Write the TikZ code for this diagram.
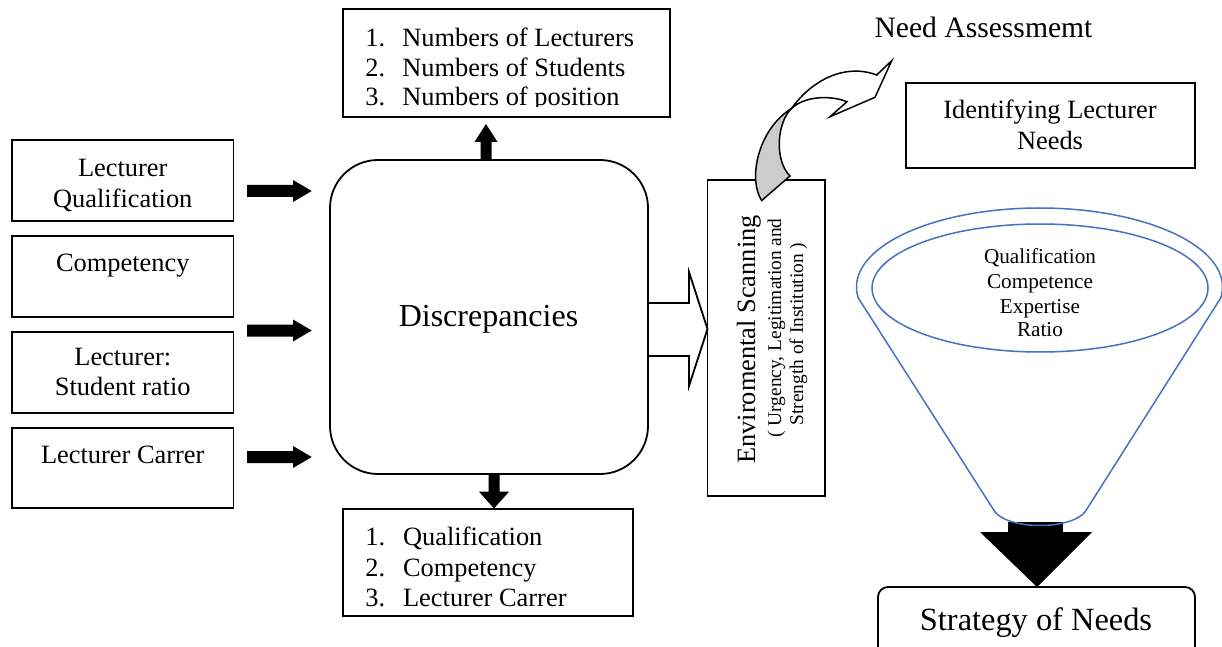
\documentclass[tikz,border=0pt]{standalone}
\usepackage{fontspec}
\setmainfont{Liberation Serif}
\definecolor{funblue}{RGB}{68,114,196}
\begin{document}
\begin{tikzpicture}[x=0.5pt,y=-0.5pt,
  box/.style={draw, line width=0.9pt, inner sep=0pt, outer sep=0pt},
  txt/.style={inner sep=0pt, anchor=base, font=\fontsize{13.2}{15}\selectfont},
  txtl/.style={txt, anchor=base west},
  small/.style={font=\fontsize{9.7}{11}\selectfont},
  ftxt/.style={txt, font=\fontsize{10.6}{12}\selectfont},
  funnel/.style={draw=funblue, line width=0.75pt}]
\useasboundingbox (0,0) rectangle (1222,647);

% left boxes
\node[box, minimum width=110.75pt, minimum height=40.35pt] (b1) at (122.75,180.35) {};
\node[box, minimum width=110.75pt, minimum height=40.35pt] (b2) at (122.75,276.35) {};
\node[box, minimum width=110.75pt, minimum height=40.5pt] (b3) at (122.75,372.2) {};
\node[box, minimum width=110.75pt, minimum height=40.3pt] (b4) at (122.75,468) {};
\node[txt] (b1a) at (122.75,176.7) {Lecturer};
\node[txt] (b1b) at (122.75,207.3) {Qualification};
\node[txt] (b2a) at (122.75,271.7) {Competency};
\node[txt] (b3a) at (122.75,365) {Lecturer:};
\node[txt] (b3b) at (122.75,395) {Student ratio};
\node[txt] (b4a) at (122.75,463.3) {Lecturer Carrer};

% black right arrows
\foreach \c in {191,330.5,457}{
  \fill (247,\c-6) -- (293,\c-6) -- (293,\c-11) -- (311.7,\c) -- (293,\c+11) -- (293,\c+6) -- (247,\c+6) -- cycle;
}

% discrepancies
\node[box, rounded corners=24pt, minimum width=159pt, minimum height=157pt] (disc) at (489,317) {};
\node[txt, font=\fontsize{16}{19}\selectfont] (disct) at (488.5,326.5) {Discrepancies};

% top box
\node[box, minimum width=163.35pt, minimum height=54pt] (top) at (506.65,63.3) {};
\begin{scope}
\clip (343,9) rectangle (670,107);
\node[txtl] (t1n) at (365,46.7) {1.};
\node[txtl] (t1) at (402,46.7) {Numbers of Lecturers};
\node[txtl] (t2n) at (365,76.5) {2.};
\node[txtl] (t2) at (402,76.5) {Numbers of Students};
\node[txtl] (t3n) at (365,105.5) {3.};
\node[txtl] (t3) at (402,105.5) {Numbers of position};
\end{scope}
% up arrow
\fill (480.5,160) -- (480.5,142) -- (474.5,142) -- (486,124) -- (497.5,142) -- (491.5,142) -- (491.5,160) -- cycle;

% bottom box
\node[box, minimum width=145pt, minimum height=53.35pt] (bot) at (488.3,562.65) {};
\node[txtl] (u1n) at (365,545) {1.};
\node[txtl] (u1) at (402.7,545) {Qualification};
\node[txtl] (u2n) at (365,576) {2.};
\node[txtl] (u2) at (402.7,576) {Competency};
\node[txtl] (u3n) at (365,606.5) {3.};
\node[txtl] (u3) at (402.7,606.5) {Lecturer Carrer};
% down arrow
\fill (488.5,474) -- (488.5,491.7) -- (479,491.7) -- (494,508.5) -- (509,491.7) -- (499.5,491.7) -- (499.5,474) -- cycle;

% hollow arrow
\draw[line width=0.9pt] (648,303) -- (689,303) -- (689,272) -- (707.5,329) -- (689,386) -- (689,356) -- (648,356);

% environmental box
\node[box, minimum width=58.75pt, minimum height=158pt] (env) at (766.25,338) {};
\node[txt, rotate=90] (env1) at (755,339.5) {Enviromental Scanning};
\node[txt, small, rotate=90] (env2) at (781,328) {( Urgency, Legitimation and};
\node[txt, small, rotate=90] (env3) at (803,334) {Strength of Institution )};

% curved arrow
\draw[fill=white, line width=0.75pt, line join=miter] (791.7,108.3) .. controls (812,80) and (845,63) .. (876.7,75) -- (891.7,60.7) -- (875,97.3) -- (830,116.7) -- (847,101.7) .. controls (830,95) and (805,96) .. (791.7,108.3) -- cycle;
\draw[fill=gray!40, line width=0.75pt] (761.7,200.5) .. controls (748,180) and (757,130) .. (791.7,108.3) .. controls (777,122) and (774,160) .. (790,176) -- cycle;

\node[txt, font=\fontsize{14.8}{17}\selectfont] (need) at (983.5,37.5) {Need Assessmemt};

% identifying box
\node[box, minimum width=144.5pt, minimum height=42.65pt] (ident) at (1050.5,125.35) {};
\node[txt] (id1) at (1050,119) {Identifying Lecturer};
\node[txt] (id2) at (1050,149) {Needs};

% funnel
\fill (1008,522) rectangle (1063,533);
\fill (980,532) -- (1092,532) -- (1037,587) -- cycle;
\begin{scope}
\clip (840,190) rectangle (1240,298);
\draw[funnel] (1039.5,287) ellipse [x radius=91.5pt, y radius=39.5pt];
\end{scope}
\draw[funnel] (858.3,298) -- (995,512) .. controls (1010,530) and (1070,530) .. (1085,512) -- (1220.7,298);
\draw[funnel] (1040,288) ellipse [x radius=84pt, y radius=32pt];
\node[ftxt] (f1) at (1040,263.3) {Qualification};
\node[ftxt] (f2) at (1040,288.3) {Competence};
\node[ftxt] (f3) at (1040,313.3) {Expertise};
\node[ftxt] (f4) at (1040,336.7) {Ratio};

% strategy
\node[box, rounded corners=5pt, minimum width=158.5pt, minimum height=41.5pt] (strat) at (1036.5,628.5) {};
\node[txt, font=\fontsize{16.2}{19}\selectfont] (stratt) at (1036,630) {Strategy of Needs};
\end{tikzpicture}
\end{document}
